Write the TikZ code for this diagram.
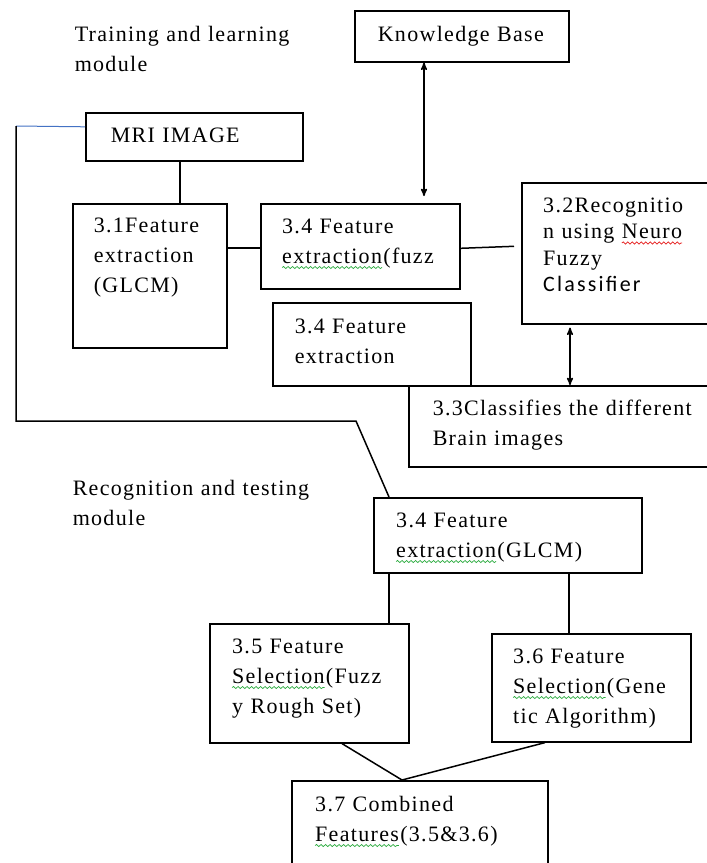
\documentclass[tikz,border=0pt]{standalone}
\usepackage{fontspec}
\setmainfont{Liberation Serif}[LetterSpace=6]
\newfontfamily\calfont{Carlito}[LetterSpace=10]
\usetikzlibrary{arrows, positioning, decorations.pathmorphing}

\definecolor{wireblue}{RGB}{68,114,196}
\definecolor{spellgreen}{RGB}{40,170,60}
\definecolor{spellred}{RGB}{230,30,30}

% wavy spell-check marks under a word
\newcommand\spellwave[2]{\setbox0=\hbox{#2}\tikz[overlay]\draw[#1, line width=0.7pt, decorate,
  decoration={snake, amplitude=1.1pt, segment length=4.5pt}] (0pt,-4.5pt) -- (\the\wd0,-4.5pt);#2}

\begin{document}
\begin{tikzpicture}[x=1pt, y=-1pt, -, >=stealth', line width=1.5pt,
  stage/.style={draw, rectangle, anchor=north west, inner sep=0pt, line width=1.6pt},
  txt/.style={anchor=base west, inner sep=0pt, align=left, text width=300pt,
    font=\fontsize{22}{30}\selectfont}]

  \clip (0,0) rectangle (707,863);
  \fill[white] (0,0) rectangle (707,863);

  % boxes
  \node[stage, minimum width=214pt, minimum height=51pt] (kb) at (354,10) {};
  \node[stage, minimum width=217pt, minimum height=48pt] (mri) at (85,112) {};
  \node[stage, minimum width=154pt, minimum height=144pt] (31) at (72,203) {};
  \node[stage, minimum width=199pt, minimum height=85pt] (34a) at (260,203) {};
  \node[stage, minimum width=200pt, minimum height=141pt] (32) at (521,182) {};
  \node[stage, minimum width=198pt, minimum height=83pt] (34b) at (272,302) {};
  \node[stage, minimum width=310pt, minimum height=81pt] (33) at (408,385) {};
  \node[stage, minimum width=268pt, minimum height=75pt] (34c) at (373,497) {};
  \node[stage, minimum width=199pt, minimum height=119pt] (35) at (209,623) {};
  \node[stage, minimum width=199pt, minimum height=108pt] (36) at (491,633) {};
  \node[stage, minimum width=256pt, minimum height=100pt] (37) at (291,780) {};

  % texts
  \node[txt] (train) at (74,41) {Training and learning\\module};
  \node[txt] (test) at (72,495) {Recognition and testing\\module};
  \node[txt] (tkb) at ([xshift=23pt, yshift=-31pt]kb.north west) {Knowledge Base};
  \node[txt] (tmri) at ([xshift=25pt, yshift=-30pt]mri.north west) {MRI IMAGE};
  \node[txt] (t31) at ([xshift=21pt, yshift=-29pt]31.north west) {3.1Feature\\extraction\\(GLCM)};
  \node[txt] (t34a) at ([xshift=22pt, yshift=-30pt]34a.north west) {3.4 Feature\\\spellwave{spellgreen}{extraction}(fuzz};
  \node[txt, font=\fontsize{22}{26.5}\selectfont] (t32) at ([xshift=22pt, yshift=-30pt]32.north west)
    {3.2Recognitio\\n using \spellwave{spellred}{Neuro}\\Fuzzy\\{\calfont Classifier}};
  \node[txt] (t34b) at ([xshift=22pt, yshift=-31pt]34b.north west) {3.4 Feature\\extraction};
  \node[txt] (t33) at ([xshift=24pt, yshift=-30pt]33.north west) {3.3Classifies the different\\Brain images};
  \node[txt] (t34c) at ([xshift=23pt, yshift=-30pt]34c.north west) {3.4 Feature\\\spellwave{spellgreen}{extraction}(GLCM)};
  \node[txt] (t35) at ([xshift=23pt, yshift=-30pt]35.north west) {3.5 Feature\\\spellwave{spellgreen}{Selection}(Fuzz\\y Rough Set)};
  \node[txt] (t36) at ([xshift=22pt, yshift=-30pt]36.north west) {3.6 Feature\\\spellwave{spellgreen}{Selection}(Gene\\tic Algorithm)};
  \node[txt] (t37) at ([xshift=24pt, yshift=-31pt]37.north west) {3.7 Combined\\\spellwave{spellgreen}{Features}(3.5\&3.6)};

  % connectors
  \path
    ([xshift=95pt]mri.south west) edge ([xshift=108pt]31.north west)
    ([yshift=-1.5pt]34a.west -| 31.east) edge ([yshift=-1.5pt]34a.west)
    ([yshift=-2pt]34a.east) edge ([xshift=-7pt, yshift=7pt]32.west)
    ([xshift=70pt]kb.south west) edge[<->, shorten >=7pt] ([xshift=164pt]34a.north west)
    ([xshift=49pt, yshift=-3pt]32.south west) edge[<->] ([xshift=162pt]33.north west)
    ([xshift=16pt]34c.south west) edge ([xshift=180pt]35.north west)
    ([xshift=196pt]34c.south west) edge ([xshift=78pt]36.north west)
    ([xshift=133pt]35.south west) edge ([xshift=111pt]37.north west)
    ([xshift=54pt]36.south west) edge ([xshift=111pt]37.north west);

  \coordinate (loop top) at (16,126);
  \coordinate (loop knee) at (356,421);
  \draw[wireblue, line width=1pt] ([yshift=10pt]mri.west) -- (loop top);
  \draw (loop top) |- (loop knee) -- ([xshift=16pt]34c.north west);
\end{tikzpicture}
\end{document}
